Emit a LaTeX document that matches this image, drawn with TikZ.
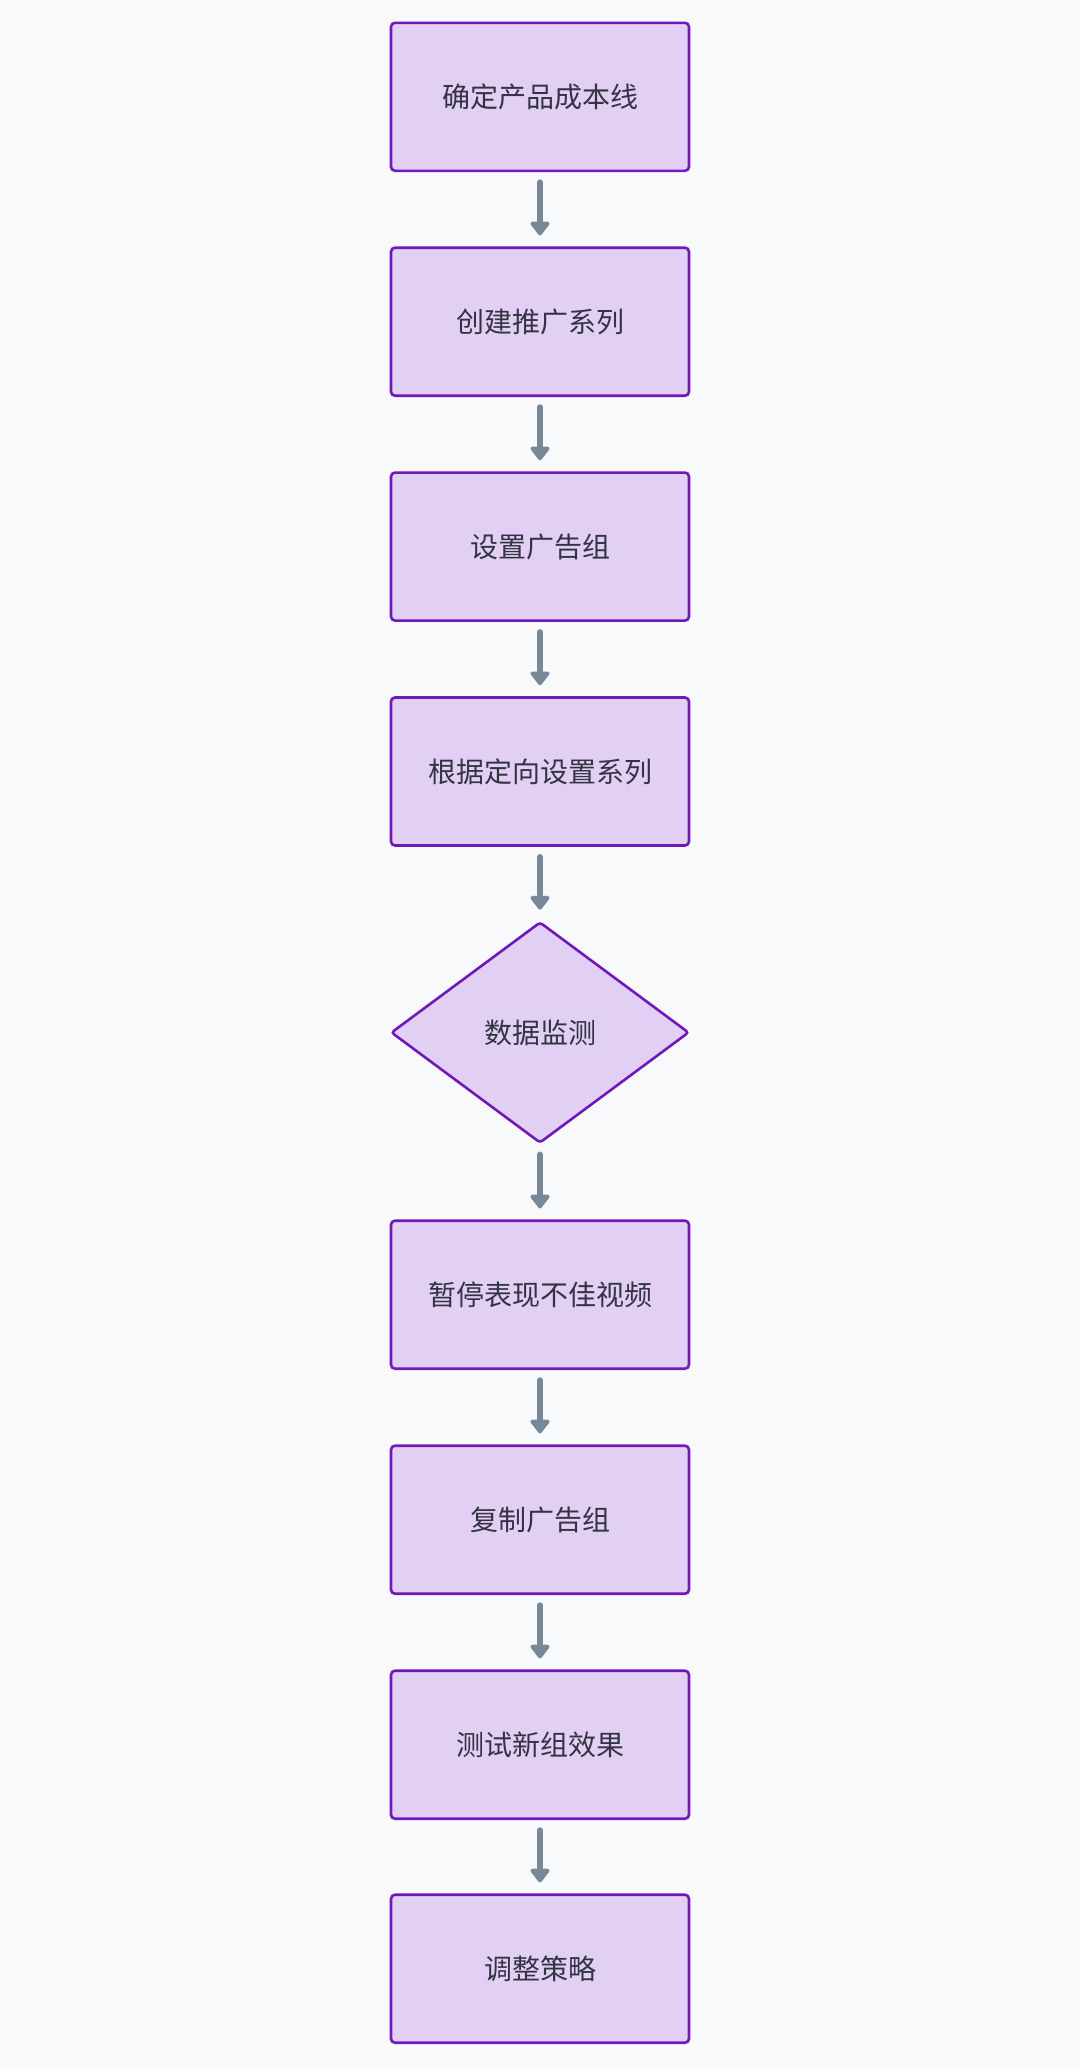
\documentclass[tikz,border=0pt]{standalone}
\usepackage{fontspec}
\setmainfont{Noto Sans CJK SC}
\usetikzlibrary{shapes.geometric,arrows.meta}
\definecolor{bgc}{HTML}{F8F9FB}
\definecolor{boxfill}{HTML}{E2D0F4}
\definecolor{boxline}{HTML}{7019B8}
\definecolor{arrowc}{HTML}{778898}
\definecolor{txtc}{HTML}{333344}
\tikzset{
  stepbox/.style={draw=boxline, fill=boxfill, line width=2.6pt, rounded corners=4pt,
    minimum width=298pt, minimum height=148pt, inner sep=0pt, text=txtc,
    font=\fontsize{28pt}{32pt}\selectfont},
  decide/.style={draw=boxline, fill=boxfill, line width=2.6pt, diamond, rounded corners=3pt,
    minimum width=298pt, minimum height=221pt, inner sep=0pt, text=txtc,
    font=\fontsize{28pt}{32pt}\selectfont},
  flow/.style={draw=arrowc, line width=5.5pt, line cap=round,
    -{Triangle[width=22pt,length=15pt,round]}, shorten <=10pt, shorten >=11pt}
}
\begin{document}
\begin{tikzpicture}[x=1pt,y=-1pt]
\fill[bgc] (0,0) rectangle (1080,2069);
\useasboundingbox (0,0) rectangle (1080,2069);
\node[stepbox] (n1) at (540,96.8) {确定产品成本线};
\node[stepbox] (n2) at (540,321.7) {创建推广系列};
\node[stepbox] (n3) at (540,546.6) {设置广告组};
\node[stepbox] (n4) at (540,771.5) {根据定向设置系列};
\node[decide] (n5) at (540,1032.5) {数据监测};
\node[stepbox] (n6) at (540,1294.7) {暂停表现不佳视频};
\node[stepbox] (n7) at (540,1519.7) {复制广告组};
\node[stepbox] (n8) at (540,1744.7) {测试新组效果};
\node[stepbox] (n9) at (540,1968.7) {调整策略};
\draw[flow] (n1) -- (n2);
\draw[flow] (n2) -- (n3);
\draw[flow] (n3) -- (n4);
\draw[flow] (n4) -- (n5);
\draw[flow] (n5) -- (n6);
\draw[flow] (n6) -- (n7);
\draw[flow] (n7) -- (n8);
\draw[flow] (n8) -- (n9);
\end{tikzpicture}
\end{document}
